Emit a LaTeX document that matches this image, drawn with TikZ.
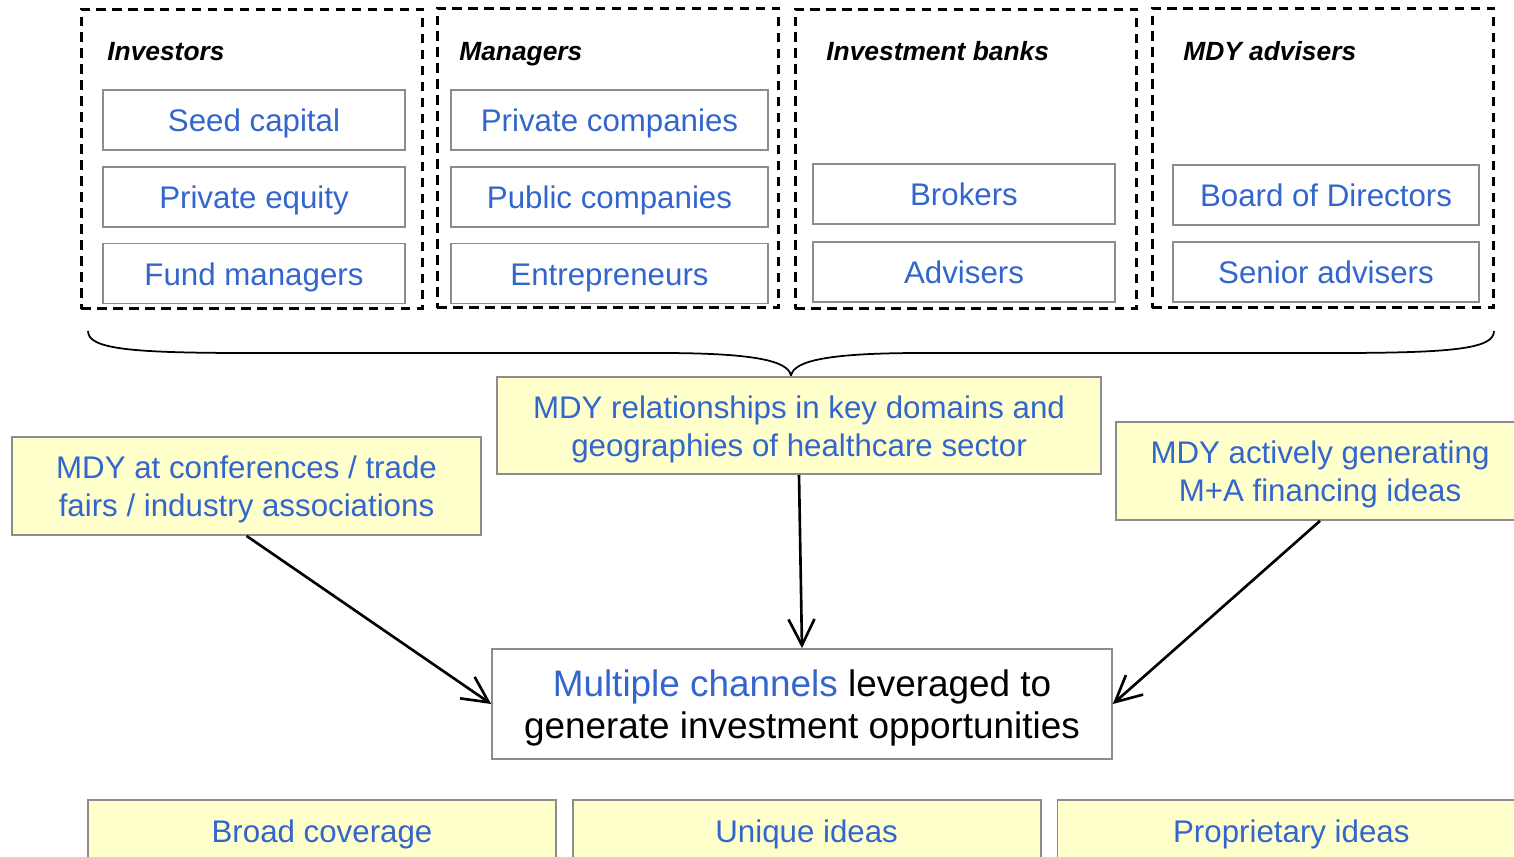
\documentclass[tikz,border=0pt]{standalone}
\usepackage{fontspec}
\setmainfont{Liberation Sans}
\usetikzlibrary{positioning, arrows.meta}
\definecolor{itemcol}{RGB}{51,102,204}
\definecolor{notecol}{RGB}{255,255,204}
\definecolor{framecol}{RGB}{140,140,140}

\begin{document}
\begin{tikzpicture}[
			x=0.02cm,
			y=-0.02cm,
			node distance=0.3cm,
			group/.style={
				draw,
				line width=1.7pt,
				dash pattern=on 5.5pt off 3.6pt,
				minimum width=6.84cm,
				minimum height=6cm,
				inner sep=0
			},
			heading/.style={
				anchor=base west,
				inner sep=0,
				font=\fontsize{15}{18}\selectfont\bfseries\itshape
			},
			item/.style={
				draw=framecol,
				line width=1pt,
				text=itemcol,
				minimum width=6.04cm,
				minimum height=1.2cm,
				inner sep=0,
				text height=16.9pt,
				text depth=3.6pt,
				align=center,
				font=\fontsize{17.8}{21.8}\selectfont
			},
			result/.style={
				item,
				fill=notecol,
				minimum width=9.36cm,
				minimum height=1.24cm
			},
			note/.style={
				item,
				fill=notecol,
				minimum height=1.96cm,
				text height=38.7pt
			},
			every edge/.style={
				draw,
				line width=1.5pt,
				-{Straight Barb[length=0.52cm, width=0.52cm]}
			}
			]
			\useasboundingbox (0,0) rectangle (1514,856);
			
			% Groups
			\node[group] (inv) at (252,159) {};
			\node[group] (man) at (608,158) {};
			\node[group] (ban) at (966,159) {};
			\node[group] (adv) at (1323,158) {};
			\node[heading] (invhead) at (107,60) {Investors};
			\node[heading] (manhead) at (459,60) {Managers};
			\node[heading] (banhead) at (826,60) {Investment banks};
			\node[heading] (advhead) at (1183,60) {MDY advisers};
			
			% Items
			\node[item] (seed) at (254,120) {Seed capital};
			\node[item] (pe) [below=of seed] {Private equity};
			\node[item] (fund) [below=of pe] {Fund managers};
			\node[item, minimum width=6.34cm] (priv) at (609.5,120) {Private companies};
			\node[item, minimum width=6.34cm] (pub) [below=of priv] {Public companies};
			\node[item, minimum width=6.34cm] (entre) [below=of pub] {Entrepreneurs};
			\node[item] (brok) at (964,194) {Brokers};
			\node[item] (advis) [below=0.32cm of brok] {Advisers};
			\node[item, minimum width=6.12cm] (board) at (1326,195) {Board of Directors};
			\node[item, minimum width=6.12cm] (senior) [below=of board] {Senior advisers};
			
			% Brace
			\draw[line width=1pt] (88,331) .. controls (88,349) and (130,353) .. (250,353)
			-- (660,353) .. controls (750,353) and (789,360) .. (791,376)
			.. controls (793,360) and (832,353) .. (922,353)
			-- (1332,353) .. controls (1452,353) and (1494,349) .. (1494,331);
			
			% Channels
			\node[note, minimum width=12.08cm, minimum height=1.94cm] (rel) at (799,425.5)
			{MDY relationships in key domains and\\geographies of healthcare sector};
			\node[note, minimum width=9.38cm] (conf) at (246.5,486)
			{MDY at conferences / trade\\fairs / industry associations};
			\node[note, minimum width=8.16cm] (gen) at (1320,471)
			{MDY actively generating\\M+A financing ideas};
			\node[item, text=black, minimum width=12.4cm, minimum height=2.2cm,
			text height=44pt, text depth=4.2pt,
			font=\fontsize{21}{24}\selectfont] (main) at (802,704)
			{\textcolor{itemcol}{Multiple channels} leveraged to\\generate investment opportunities};
			
			% Results
			\node[result] (broad) at (322,831) {Broad coverage};
			\node[result] (uniq) [right=of broad] {Unique ideas};
			\node[result] (prop) [right=of uniq] {Proprietary ideas};
			
			% Arrows
			\path
			(conf.south) edge (main.west)
			(rel.south) edge (main.north)
			(gen.south) edge (main.east);
		\end{tikzpicture}
\end{document}
